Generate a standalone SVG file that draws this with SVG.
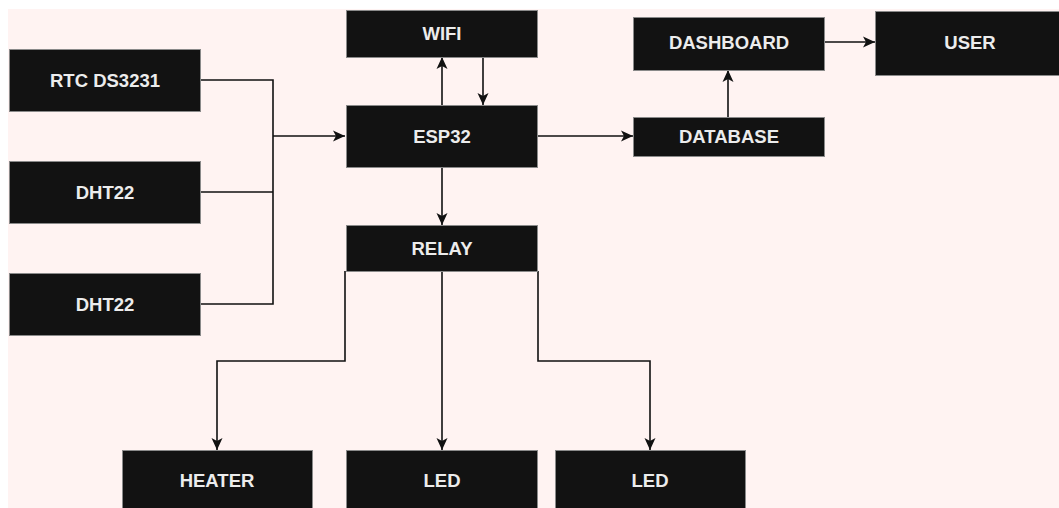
<svg xmlns="http://www.w3.org/2000/svg" width="1059" height="508" viewBox="0 0 1059 508">
<style>
.box{fill:#121212;stroke:#8a8a8a;stroke-width:1}
.lbl{fill:#ececec;font-family:"Liberation Sans",Arial,sans-serif;font-size:18.5px;font-weight:bold;text-anchor:middle}
.wire{fill:none;stroke:#111;stroke-width:1.6}
.arr{marker-end:url(#ah)}
</style>
<defs>
<marker id="ah" markerUnits="userSpaceOnUse" markerWidth="14" markerHeight="14" viewBox="0 0 14 14" refX="13" refY="7" orient="auto">
<path d="M1,1.5 L13,7 L1,12.5 L4,7 Z" fill="#111"/>
</marker>
</defs>
<rect x="0" y="0" width="1059" height="508" fill="#ffffff"/>
<rect x="8" y="9" width="1051" height="499" fill="#fff3f2"/>
<g id="connectors">
<polyline class="wire" points="200,80 273,80 273,304 200,304"/>
<line class="wire" x1="200" y1="192" x2="273" y2="192"/>
<line class="wire arr" x1="273" y1="136" x2="345" y2="136"/>
<line class="wire arr" x1="442" y1="105" x2="442" y2="57"/>
<line class="wire arr" x1="483" y1="57" x2="483" y2="105"/>
<line class="wire arr" x1="537" y1="136" x2="633" y2="136"/>
<line class="wire arr" x1="728" y1="117" x2="728" y2="70"/>
<line class="wire arr" x1="824" y1="42" x2="875" y2="42"/>
<line class="wire arr" x1="442" y1="167" x2="442" y2="225"/>
<polyline class="wire arr" points="345,271 345,361 217,361 217,450"/>
<line class="wire arr" x1="442" y1="271" x2="442" y2="450"/>
<polyline class="wire arr" points="538,271 538,361 650,361 650,450"/>
</g>
<g id="rtc"><rect class="box" x="9.5" y="49.5" width="191" height="62"/><text class="lbl" x="105" y="87">RTC DS3231</text></g>
<g id="dht22a"><rect class="box" x="9.5" y="161.5" width="191" height="62"/><text class="lbl" x="105" y="199">DHT22</text></g>
<g id="dht22b"><rect class="box" x="9.5" y="273.5" width="191" height="62"/><text class="lbl" x="105" y="311">DHT22</text></g>
<g id="wifi"><rect class="box" x="346.5" y="10.5" width="191" height="47"/><text class="lbl" x="442" y="40">WIFI</text></g>
<g id="esp32"><rect class="box" x="346.5" y="105.5" width="191" height="62"/><text class="lbl" x="442" y="143">ESP32</text></g>
<g id="relay"><rect class="box" x="346.5" y="225.5" width="191" height="46"/><text class="lbl" x="442" y="255">RELAY</text></g>
<g id="database"><rect class="box" x="633.5" y="117.5" width="191" height="39"/><text class="lbl" x="729" y="143">DATABASE</text></g>
<g id="dashboard"><rect class="box" x="633.5" y="17.5" width="191" height="53"/><text class="lbl" x="729" y="49">DASHBOARD</text></g>
<g id="user"><rect class="box" x="875.5" y="11.5" width="191" height="64"/><text class="lbl" x="970" y="49">USER</text></g>
<g id="heater"><rect class="box" x="122.5" y="450.5" width="190" height="62"/><text class="lbl" x="217" y="487">HEATER</text></g>
<g id="led1"><rect class="box" x="346.5" y="450.5" width="191" height="62"/><text class="lbl" x="442" y="487">LED</text></g>
<g id="led2"><rect class="box" x="555.5" y="450.5" width="190" height="62"/><text class="lbl" x="650" y="487">LED</text></g>
</svg>
